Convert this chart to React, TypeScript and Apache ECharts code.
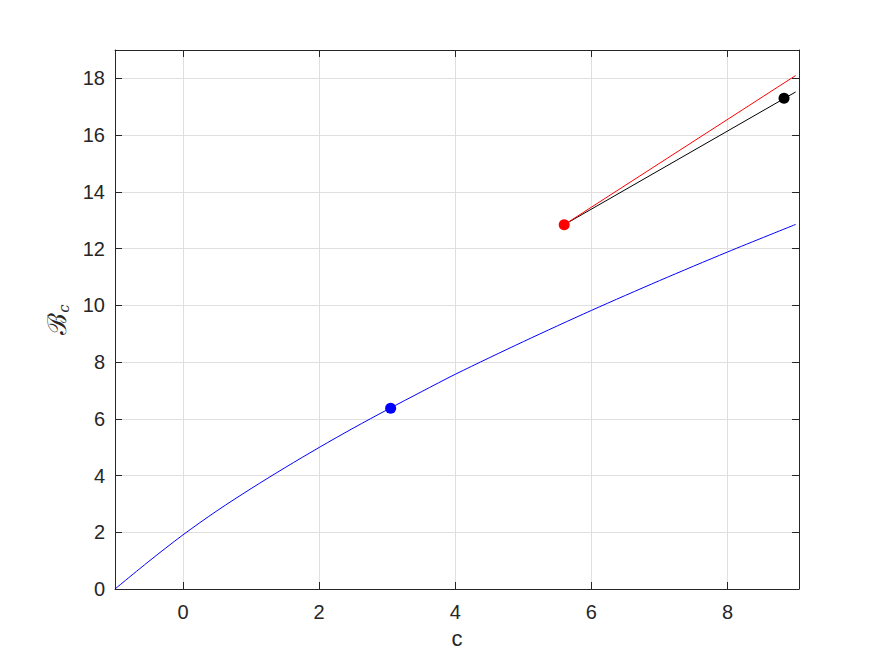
import React, { useEffect, useRef } from 'react';
import * as echarts from 'echarts';

// Blue curve B_c(c)
const blueC = [-1, -0.5, 0, 0.5, 1, 1.5, 2, 2.5, 3, 3.5, 4, 5, 6, 7, 8, 9.0];
const blueB = [0, 0.98, 1.91, 2.76, 3.54, 4.28, 4.99, 5.67, 6.32, 6.95, 7.57, 8.72, 9.82, 10.87, 11.88, 12.85];
// Red line
const redC = [5.6, 9.0];
const redB = [12.84, 18.1];
// Black line
const blackC = [5.6, 9.0];
const blackB = [12.84, 17.52];
// Markers
const blueDot = [3.05, 6.37];
const redDot = [5.6, 12.84];
const blackDot = [8.83, 17.3];

const X_MIN = -1;
const X_MAX = 9.05;
const Y_MIN = 0;
const Y_MAX = 19;

const AX = '#262626';
const FONT = '"Liberation Sans", Arial, Helvetica, sans-serif';

export default function App() {
  const ref = useRef<HTMLDivElement>(null);
  useEffect(() => {
    const chart = echarts.init(ref.current!, null, { renderer: 'svg' });
    const zip = (a: number[], b: number[]) => a.map((v, i) => [v, b[i]]);
    const evenLabel = (v: number) => (Math.abs(v % 2) < 1e-9 ? String(Math.round(v)) : '');
    const common = {
      axisLine: { show: true, onZero: false, lineStyle: { color: AX, width: 1 } },
      axisTick: { show: true, inside: true, length: 7, lineStyle: { color: AX, width: 1 } },
    };
    const option: any = {
      animation: false,
      backgroundColor: '#ffffff',
      grid: { left: 115, right: 84, top: 50, bottom: 73, containLabel: false },
      xAxis: [
        {
          type: 'value',
          min: X_MIN,
          max: X_MAX,
          splitNumber: 5,
          position: 'bottom',
          name: 'c',
          nameLocation: 'middle',
          nameGap: 38,
          nameTextStyle: { color: AX, fontSize: 22, fontFamily: FONT },
          ...common,
          axisLabel: { color: AX, fontSize: 20, fontFamily: FONT, margin: 13, formatter: evenLabel },
          splitLine: { show: true, lineStyle: { color: '#dfdfdf', width: 1 } },
        },
        {
          type: 'value',
          min: X_MIN,
          max: X_MAX,
          splitNumber: 5,
          position: 'top',
          ...common,
          axisLabel: { show: false },
          splitLine: { show: false },
        },
      ],
      yAxis: [
        {
          type: 'value',
          min: Y_MIN,
          max: Y_MAX,
          interval: 2,
          position: 'left',
          name: '{b|ℬ}{s|c}',
          nameLocation: 'middle',
          nameGap: 40,
          nameRotate: 90,
          nameTextStyle: {
            rich: {
              b: { fontSize: 26, fontFamily: '"DejaVu Serif", serif', color: AX, lineHeight: 30 },
              s: { fontSize: 15, fontFamily: '"DejaVu Serif", serif', fontStyle: 'italic', color: AX, verticalAlign: 'bottom', lineHeight: 22 },
            },
          },
          ...common,
          axisLabel: { color: AX, fontSize: 20, fontFamily: FONT, margin: 10, formatter: evenLabel },
          splitLine: { show: true, lineStyle: { color: '#dfdfdf', width: 1 } },
        },
        {
          type: 'value',
          min: Y_MIN,
          max: Y_MAX,
          interval: 2,
          position: 'right',
          ...common,
          axisLabel: { show: false },
          splitLine: { show: false },
        },
      ],
      series: [
        {
          type: 'line',
          data: zip(blueC, blueB),
          smooth: 0.3,
          showSymbol: false,
          symbol: 'none',
          lineStyle: { color: '#0000ff', width: 1 },
          z: 2,
        },
        {
          type: 'line',
          data: zip(blackC, blackB),
          showSymbol: false,
          symbol: 'none',
          lineStyle: { color: '#000000', width: 1 },
          z: 2,
        },
        {
          type: 'line',
          data: zip(redC, redB),
          showSymbol: false,
          symbol: 'none',
          lineStyle: { color: '#ff0000', width: 1 },
          z: 3,
        },
        {
          type: 'scatter',
          data: [blueDot],
          symbol: 'circle',
          symbolSize: 11,
          itemStyle: { color: '#0000ff', opacity: 1 },
          z: 4,
        },
        {
          type: 'scatter',
          data: [redDot],
          symbol: 'circle',
          symbolSize: 11,
          itemStyle: { color: '#ff0000', opacity: 1 },
          z: 4,
        },
        {
          type: 'scatter',
          data: [blackDot],
          symbol: 'circle',
          symbolSize: 11,
          itemStyle: { color: '#000000', opacity: 1 },
          z: 4,
        },
      ],
    };
    chart.setOption(option);
    return () => chart.dispose();
  }, []);
  return (
    <div
      ref={ref}
      style={{ position: 'absolute', left: 0, top: 0, width: 883, height: 662, background: '#fff' }}
    />
  );
}
